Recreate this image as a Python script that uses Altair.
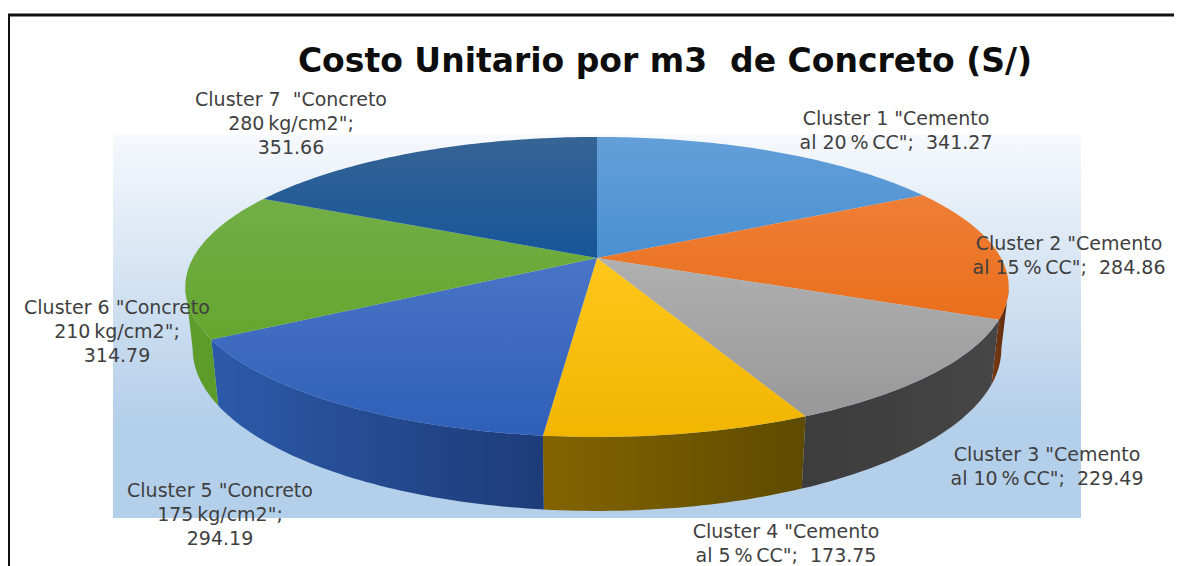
import math
import altair as alt

# ---- data
clusters = ["Cluster 1", "Cluster 2", "Cluster 3", "Cluster 4", "Cluster 5", "Cluster 6", "Cluster 7"]
costs = [341.27, 284.86, 229.49, 173.75, 294.19, 314.79, 351.66]
title_text = "Costo Unitario por m3\u00a0\u00a0de Concreto (S/)"
label_lines = [
    ['Cluster 1 "Cemento', 'al 20\u2009%\u2009CC";\u00a0\u00a0341.27'],
    ['Cluster 2 "Cemento', 'al 15\u2009%\u2009CC";\u00a0\u00a0284.86'],
    ['Cluster 3 "Cemento', 'al 10\u2009%\u2009CC";\u00a0\u00a0229.49'],
    ['Cluster 4 "Cemento', 'al 5\u2009%\u2009CC";\u00a0\u00a0173.75'],
    ['Cluster 5 "Concreto', '175\u2009kg/cm2";', '294.19'],
    ['Cluster 6 "Concreto', '210\u2009kg/cm2";', '314.79'],
    ['Cluster 7\u00a0\u00a0"Concreto', '280\u2009kg/cm2";', '351.66'],
]
top_colors = [("#639fd9", "#4a90d2"), ("#ef7f36", "#e96f1c"), ("#b0b0b0", "#989898"),
              ("#ffc61c", "#f2b600"), ("#4a75c6", "#2f5fb8"), ("#72ae46", "#65a62f"),
              ("#366494", "#16559a")]
side_colors = [("#3d6f9f", "#3d6f9f"), ("#7a3a12", "#5c2a10"), ("#3c3c3c", "#464646"),
               ("#836400", "#5e4b00"), ("#2c5aaa", "#1d3b78"), ("#5f9e2c", "#5c9a2a"),
               ("#1c4a7a", "#1c4a7a")]
label_xy = [(896, 118), (1069, 243), (1047, 454), (786, 531), (220, 490), (117, 307), (291, 99)]

# ---- perspective of the pie's disc, in page pixels
CX, CY, RX, RY, K, DEPTH, SHRINK = 597.0, 258.0, 404.0, 144.4, 0.193, 59.7, 0.982
OFF = 8  # page margin


def project(deg, low=False):
    t = math.radians(deg)
    u, v = math.sin(t), math.cos(t)
    w = 1 + K * v
    x = RX * u / w
    y = CY - RY * v / w
    if low:
        x *= SHRINK
        y += DEPTH / w
    return [CX + x - OFF, y - OFF]


def sweep(a, b):
    n = max(2, int(abs(b - a)) + 1)
    return [a + (b - a) * i / n for i in range(n + 1)]


def shape(ring):
    return alt.InlineData(values=[{"type": "Feature", "properties": {},
                                   "geometry": {"type": "Polygon", "coordinates": [ring + [ring[0]]]}}],
                          format=alt.DataFormat(type="json"))


total = sum(costs)
edges = [0.0]
for c in costs:
    edges.append(edges[-1] + 360.0 * c / total)

# wall is visible between the disc's two horizontal extremes
vis_a = math.degrees(math.acos(-K))
vis_b = 360 - vis_a

layers = []
# background panel
layers.append(
    alt.Chart(alt.Data(values=[{"p": 1}])).mark_rect(
        fill=alt.Gradient(gradient="linear", x1=0, x2=0, y1=0, y2=1, stops=[
            alt.GradientStop(color="#f6f9fd", offset=0),
            alt.GradientStop(color="#dbe7f4", offset=0.3),
            alt.GradientStop(color="#b4cfea", offset=0.75),
            alt.GradientStop(color="#b4cfea", offset=1)])
    ).encode(x=alt.value(113 - OFF), x2=alt.value(1081 - OFF),
             y=alt.value(135 - OFF), y2=alt.value(518 - OFF))
)

for i in range(7):
    a, b = max(edges[i], vis_a), min(edges[i + 1], vis_b)
    if b <= a:
        continue
    ring = [project(d) for d in sweep(a, b)] + [project(d, True) for d in sweep(b, a)]
    left, right = side_colors[i]
    layers.append(
        alt.Chart(shape(ring)).mark_geoshape(
            strokeWidth=0,
            fill=alt.Gradient(gradient="linear", x1=0, x2=1, y1=0, y2=0,
                              stops=[alt.GradientStop(color=left, offset=0),
                                     alt.GradientStop(color=right, offset=1)])
        ).project(type="identity", scale=1, translate=[0, 0])
    )

for i in range(7):
    ring = [[CX - OFF, CY - OFF]] + [project(d) for d in sweep(edges[i], edges[i + 1])]
    c0, c1 = top_colors[i]
    layers.append(
        alt.Chart(shape(ring)).mark_geoshape(
            strokeWidth=0,
            fill=alt.Gradient(gradient="linear", x1=0, x2=0, y1=0, y2=1,
                              stops=[alt.GradientStop(color=c0, offset=0),
                                     alt.GradientStop(color=c1, offset=1)])
        ).project(type="identity", scale=1, translate=[0, 0])
    )

# frame
layers.append(alt.Chart(alt.Data(values=[{"p": 1}])).mark_rule(color="#111111", strokeWidth=3).encode(
    x=alt.value(0), x2=alt.value(1166), y=alt.value(7)))
layers.append(alt.Chart(alt.Data(values=[{"p": 1}])).mark_rule(color="#111111", strokeWidth=2).encode(
    x=alt.value(1), y=alt.value(7), y2=alt.value(558)))

# title and labels
layers.append(alt.Chart(alt.Data(values=[{"p": 1}])).mark_text(
    text=title_text, font="DejaVu Sans", fontWeight="bold", fontSize=33, color="#0d0d0d",
    align="center", baseline="middle").encode(x=alt.value(665 - OFF), y=alt.value(62 - OFF)))

for lines, (lx, ly) in zip(label_lines, label_xy):
    layers.append(alt.Chart(alt.Data(values=[{"p": 1}])).mark_text(
        text=lines, font="DejaVu Sans", fontSize=19, color="#3f3f3f", lineHeight=24,
        align="center", baseline="middle").encode(x=alt.value(lx - OFF), y=alt.value(ly - OFF + 1)))

chart = alt.layer(*layers).properties(
    width=1166, height=558, padding=0, background="white",
    autosize=alt.AutoSizeParams(type="none"),
).configure_view(strokeWidth=0)

chart.save("out.html", embed_options={"renderer": "svg", "actions": False})
